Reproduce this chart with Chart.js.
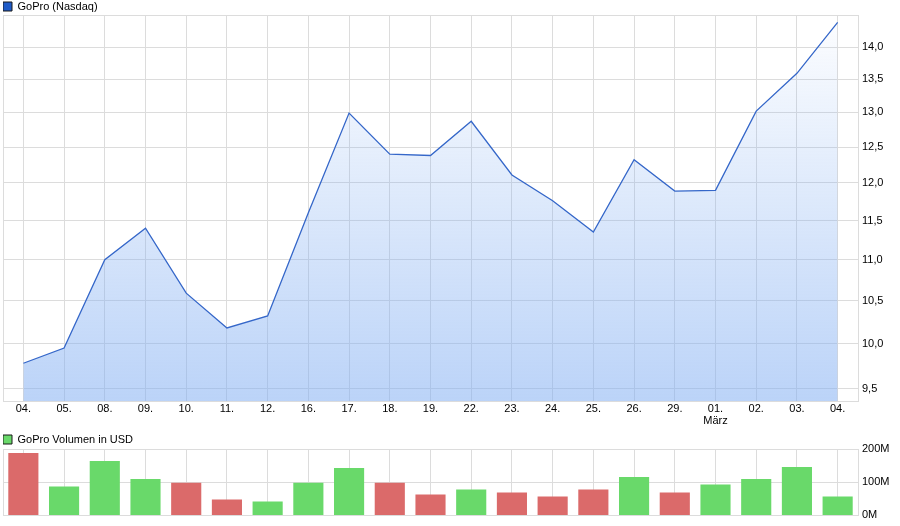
<!DOCTYPE html>
<html>
<head>
<meta charset="utf-8">
<script src="https://cdn.jsdelivr.net/npm/chart.js@4.4.1/dist/chart.umd.min.js"></script>
<style>
    html, body { margin: 0; padding: 0; background: #fff; overflow: hidden; }
    #priceBox { position: absolute; left: 0; top: 0; width: 900px; height: 430px; }
    #volumeBox { position: absolute; left: 0; top: 433px; width: 900px; height: 93px; }
</style>
</head>
<body>
<div id="priceBox"><canvas id="priceChart"></canvas></div>
<div id="volumeBox"><canvas id="volumeChart"></canvas></div>
<script>
// Handelstage (Februar / März)
const days = ['04.', '05.', '08.', '09.', '10.', '11.', '12.', '16.', '17.', '18.', '19.',
              '22.', '23.', '24.', '25.', '26.', '29.', '01.', '02.', '03.', '04.'];
const monthMark = { index: 17, name: 'März' };

// Schlusskurse in USD
const closes = [9.78, 9.95, 11.00, 11.40, 10.59, 10.18, 10.32, 11.60, 12.99, 12.40, 12.38,
                12.87, 12.11, 11.76, 11.35, 12.32, 11.89, 11.90, 13.02, 13.59, 14.40];
const previousClose = 9.95;

// Volumen in Mio. USD
const volumes = [188, 87, 164, 110, 98, 48, 42, 98, 143, 98, 63,
                 78, 69, 57, 78, 116, 69, 93, 110, 146, 57];

const priceTicks = [9.5, 10.0, 10.5, 11.0, 11.5, 12.0, 12.5, 13.0, 13.5, 14.0];
const volumeTicks = [0, 100, 200];

Chart.defaults.font.family = '"Liberation Sans", Arial, sans-serif';
Chart.defaults.font.size = 11;
Chart.defaults.color = '#000';
Chart.defaults.animation = false;

// Legende kompakter machen
function legendHeight(h) {
    return {
        id: 'legendHeight',
        beforeLayout(chart) {
            const lg = chart.legend;
            if (lg && !lg._fixed) {
                const fit = lg.fit.bind(lg);
                lg.fit = function() { fit(); this.height = h; };
                lg._fixed = true;
            }
        }
    };
}

// Rahmen um die Zeichenfläche
const frame = {
    id: 'frame',
    afterDatasetsDraw(chart) {
        const a = chart.chartArea, c = chart.ctx;
        c.save();
        c.strokeStyle = '#dcdcdc';
        c.lineWidth = 1;
        c.strokeRect(Math.round(a.left) + 0.5, Math.round(a.top) + 0.5,
                     Math.round(a.right) - Math.round(a.left), Math.round(a.bottom) - Math.round(a.top));
        c.restore();
    }
};

const priceChart = new Chart(document.getElementById('priceChart'), {
    type: 'line',
    data: {
        labels: days,
        datasets: [{
            label: 'GoPro (Nasdaq)',
            data: closes,
            borderColor: '#3567c9',
            borderWidth: 1.3,
            pointRadius: 0,
            tension: 0,
            fill: 'start',
            backgroundColor(ctx) {
                const area = ctx.chart.chartArea;
                if (!area) return 'rgba(131,175,242,0.3)';
                const g = ctx.chart.ctx.createLinearGradient(0, area.top, 0, area.bottom);
                g.addColorStop(0, 'rgba(131,175,242,0.02)');
                g.addColorStop(1, 'rgba(131,175,242,0.55)');
                return g;
            }
        }]
    },
    options: {
        responsive: true,
        maintainAspectRatio: false,
        layout: { padding: { left: 3, right: 0, top: 1, bottom: 0 } },
        scales: {
            x: {
                offset: true,
                grid: { color: '#dcdcdc', offset: false, drawTicks: false },
                border: { display: false },
                ticks: {
                    padding: 2,
                    maxRotation: 0,
                    autoSkip: false,
                    font: { size: 11, lineHeight: 1.1 },
                    callback(value, i) {
                        return i === monthMark.index ? [days[i], monthMark.name] : days[i];
                    }
                },
                afterFit(scale) { scale.height = 29; }
            },
            y: {
                type: 'logarithmic',
                position: 'right',
                min: 9.37,
                max: 14.52,
                grid: { color: '#dcdcdc', drawTicks: false },
                border: { display: false },
                afterBuildTicks(scale) { scale.ticks = priceTicks.map(v => ({ value: v })); },
                ticks: {
                    padding: 4,
                    callback: (v) => v.toFixed(1).replace('.', ',')
                },
                afterFit(scale) { scale.width = 42; }
            }
        },
        plugins: {
            legend: {
                position: 'top',
                align: 'start',
                labels: {
                    boxWidth: 9, boxHeight: 9, padding: 0,
                    generateLabels: (chart) => [{
                        text: chart.data.datasets[0].label,
                        fillStyle: '#1f5bc8', strokeStyle: '#1a1a1a', lineWidth: 1,
                        hidden: false, datasetIndex: 0
                    }]
                }
            },
            tooltip: { enabled: false }
        }
    },
    plugins: [legendHeight(14), frame]
});

const volumeColors = volumes.map((v, i) => {
    const prev = i === 0 ? previousClose : closes[i - 1];
    return closes[i] >= prev ? '#69d96a' : '#db6a6a';
});

const volumeChart = new Chart(document.getElementById('volumeChart'), {
    type: 'bar',
    data: {
        labels: days,
        datasets: [{
            label: 'GoPro Volumen in USD',
            data: volumes,
            backgroundColor: volumeColors,
            borderWidth: 0,
            barPercentage: 0.74,
            categoryPercentage: 1
        }]
    },
    options: {
        responsive: true,
        maintainAspectRatio: false,
        layout: { padding: { left: 3, right: 0, top: 1, bottom: 0 } },
        scales: {
            x: {
                offset: true,
                grid: { color: '#dcdcdc', offset: false, drawTicks: false },
                border: { display: false },
                ticks: { display: false },
                afterFit(scale) { scale.height = 9; }
            },
            y: {
                position: 'right',
                min: 0,
                max: 200,
                grid: { color: '#dcdcdc', drawTicks: false },
                border: { display: false },
                afterBuildTicks(scale) { scale.ticks = volumeTicks.map(v => ({ value: v })); },
                ticks: {
                    padding: 4,
                    callback: (v) => v + 'M'
                },
                afterFit(scale) { scale.width = 42; }
            }
        },
        plugins: {
            legend: {
                position: 'top',
                align: 'start',
                labels: {
                    boxWidth: 9, boxHeight: 9, padding: 0,
                    generateLabels: (chart) => [{
                        text: chart.data.datasets[0].label,
                        fillStyle: '#69d96a', strokeStyle: '#1a1a1a', lineWidth: 1,
                        hidden: false, datasetIndex: 0
                    }]
                }
            },
            tooltip: { enabled: false }
        }
    },
    plugins: [legendHeight(15), frame]
});
</script>
</body>
</html>
